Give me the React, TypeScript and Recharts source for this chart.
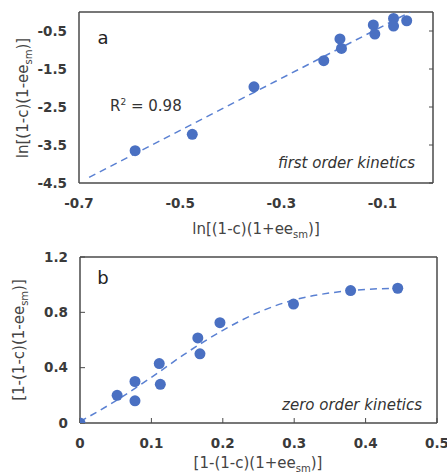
import React from 'react';
import { ScatterChart, Scatter, XAxis, YAxis, Customized } from 'recharts';

// ---- Panel a: first order kinetics ----
const aX = [-0.589, -0.476, -0.354, -0.216, -0.184, -0.181, -0.118, -0.115, -0.078, -0.078, -0.052];
const aY = [-3.65, -3.22, -1.97, -1.28, -0.71, -0.96, -0.34, -0.58, -0.17, -0.37, -0.23];
const aFitX = [-0.68, -0.045];
const aFitY = [-4.35, 0];
const aXTicks = [-0.7, -0.5, -0.3, -0.1];
const aYTicks = [-4.5, -3.5, -2.5, -1.5, -0.5];

// ---- Panel b: zero order kinetics ----
const bX = [0, 0.052, 0.077, 0.077, 0.111, 0.1125, 0.165, 0.168, 0.196, 0.299, 0.379, 0.445];
const bY = [0, 0.2, 0.3, 0.16, 0.43, 0.28, 0.615, 0.5, 0.725, 0.86, 0.957, 0.974];
const bCurveX = [0, 0.05, 0.1, 0.15, 0.2, 0.25, 0.3, 0.35, 0.4, 0.445];
const bCurveY = [0.01, 0.16, 0.33, 0.51, 0.67, 0.8, 0.89, 0.94, 0.965, 0.975];
const bXTicks = [0, 0.1, 0.2, 0.3, 0.4, 0.5];
const bYTicks = [0, 0.4, 0.8, 1.2];

const zip = (xs: number[], ys: number[]) => xs.map((x, i) => ({ x, y: ys[i] }));
const aPts = zip(aX, aY);
const aFit = zip(aFitX, aFitY);
const bPts = zip(bX, bY);
const bCurve = zip(bCurveX, bCurveY);

const FONT = '"DejaVu Sans", Verdana, sans-serif';
const DOT = '#4A70C2';
const LINE = '#5A80D2';
const AXIS = '#4a4a4a';
const TICK = { fontSize: 13.5, fontWeight: 'bold', fill: '#3a3a3a', fontFamily: FONT };

const Dot = (p: any) => <circle cx={p.cx} cy={p.cy} r={5.5} fill={DOT} />;
const NoDot = () => <g />;

const Title = ({ x, y, pre, sub, post, rotate }: any) => (
  <text
    x={x}
    y={y}
    textAnchor="middle"
    fontFamily={FONT}
    fontSize={15}
    fill="#444"
    transform={rotate ? `rotate(-90, ${x}, ${y})` : undefined}
  >
    <tspan>{pre}</tspan>
    <tspan fontSize={10} dy={4}>{sub}</tspan>
    <tspan dy={-4}>{post}</tspan>
  </text>
);

const PanelAText = () => (
  <g fontFamily={FONT}>
    <text x={103} y={44} textAnchor="middle" fontSize={18} fill="#222">a</text>
    <text x={110} y={111} fontSize={15} fill="#333">
      R<tspan fontSize={9} dy={-6}>2</tspan>
      <tspan dy={6}> = 0.98</tspan>
    </text>
    <text x={415} y={168} textAnchor="end" fontSize={15} fontStyle="italic" fill="#333">
      first order kinetics
    </text>
    <Title x={256} y={234} pre="ln[(1-c)(1+ee" sub="sm" post=")]" />
    <Title x={28} y={98} pre="ln[(1-c)(1-ee" sub="sm" post=")]" rotate />
  </g>
);

const PanelBText = () => (
  <g fontFamily={FONT}>
    <text x={103} y={44} textAnchor="middle" fontSize={18} fill="#222">b</text>
    <text x={422} y={170} textAnchor="end" fontSize={15} fontStyle="italic" fill="#333">
      zero order kinetics
    </text>
    <Title x={258} y={228} pre="[1-(1-c)(1+ee" sub="sm" post=")]" />
    <Title x={24} y={100} pre="[1-(1-c)(1-ee" sub="sm" post=")]" rotate />
  </g>
);

const axisLine = { stroke: AXIS, strokeWidth: 1.5 };
const tickLine = { stroke: AXIS, strokeWidth: 1 };

export default function App() {
  return (
    <div style={{ position: 'absolute', left: 0, top: 0, width: 447, height: 475, background: '#fff' }}>
      <ScatterChart width={447} height={240} margin={{ top: 11, right: 13, bottom: 0, left: 0 }}>
        <XAxis
          dataKey="x"
          type="number"
          domain={[-0.7, 0]}
          ticks={aXTicks}
          interval={0}
          allowDataOverflow
          height={57}
          axisLine={axisLine}
          tickLine={false}
          tickSize={0}
          tickMargin={15}
          tick={TICK}
        />
        <XAxis
          xAxisId="top"
          orientation="top"
          type="number"
          domain={[-0.7, 0]}
          ticks={aXTicks}
          interval={0}
          allowDataOverflow
          height={1}
          axisLine={axisLine}
          tickLine={tickLine}
          tickSize={-4}
          tick={NoDot}
        />
        <YAxis
          dataKey="y"
          type="number"
          domain={[-4.5, 0]}
          ticks={aYTicks}
          interval={0}
          allowDataOverflow
          width={79}
          axisLine={axisLine}
          tickLine={false}
          tickSize={0}
          tickMargin={12}
          tick={TICK}
        />
        <YAxis
          yAxisId="right"
          orientation="right"
          type="number"
          domain={[-4.5, 0]}
          ticks={aYTicks}
          interval={0}
          allowDataOverflow
          width={1}
          axisLine={axisLine}
          tickLine={tickLine}
          tickSize={-4}
          tick={NoDot}
        />
        <Scatter
          data={aFit}
          shape={NoDot}
          line={{ stroke: LINE, strokeWidth: 1.5, strokeDasharray: '7 5' }}
          isAnimationActive={false}
        />
        <Scatter data={aPts} shape={Dot} isAnimationActive={false} />
        <Customized component={PanelAText} />
      </ScatterChart>
      <ScatterChart width={447} height={235} margin={{ top: 16, right: 9, bottom: 0, left: 0 }}>
        <XAxis
          dataKey="x"
          type="number"
          domain={[0, 0.5]}
          ticks={bXTicks}
          interval={0}
          allowDataOverflow
          height={52}
          axisLine={axisLine}
          tickLine={tickLine}
          tickSize={-5}
          tickMargin={20}
          tick={TICK}
        />
        <XAxis
          xAxisId="top"
          orientation="top"
          type="number"
          domain={[0, 0.5]}
          allowDataOverflow
          height={1}
          axisLine={axisLine}
          tickLine={false}
          tick={NoDot}
        />
        <YAxis
          dataKey="y"
          type="number"
          domain={[0, 1.2]}
          ticks={bYTicks}
          interval={0}
          allowDataOverflow
          width={80}
          axisLine={axisLine}
          tickLine={tickLine}
          tickSize={-5}
          tickMargin={17}
          tick={TICK}
        />
        <YAxis
          yAxisId="right"
          orientation="right"
          type="number"
          domain={[0, 1.2]}
          allowDataOverflow
          width={1}
          axisLine={axisLine}
          tickLine={false}
          tick={NoDot}
        />
        <Scatter
          data={bCurve}
          shape={NoDot}
          line={{ stroke: LINE, strokeWidth: 1.5, strokeDasharray: '7 5' }}
          lineJointType="monotoneX"
          isAnimationActive={false}
        />
        <Scatter data={bPts} shape={Dot} isAnimationActive={false} />
        <Customized component={PanelBText} />
      </ScatterChart>
    </div>
  );
}
